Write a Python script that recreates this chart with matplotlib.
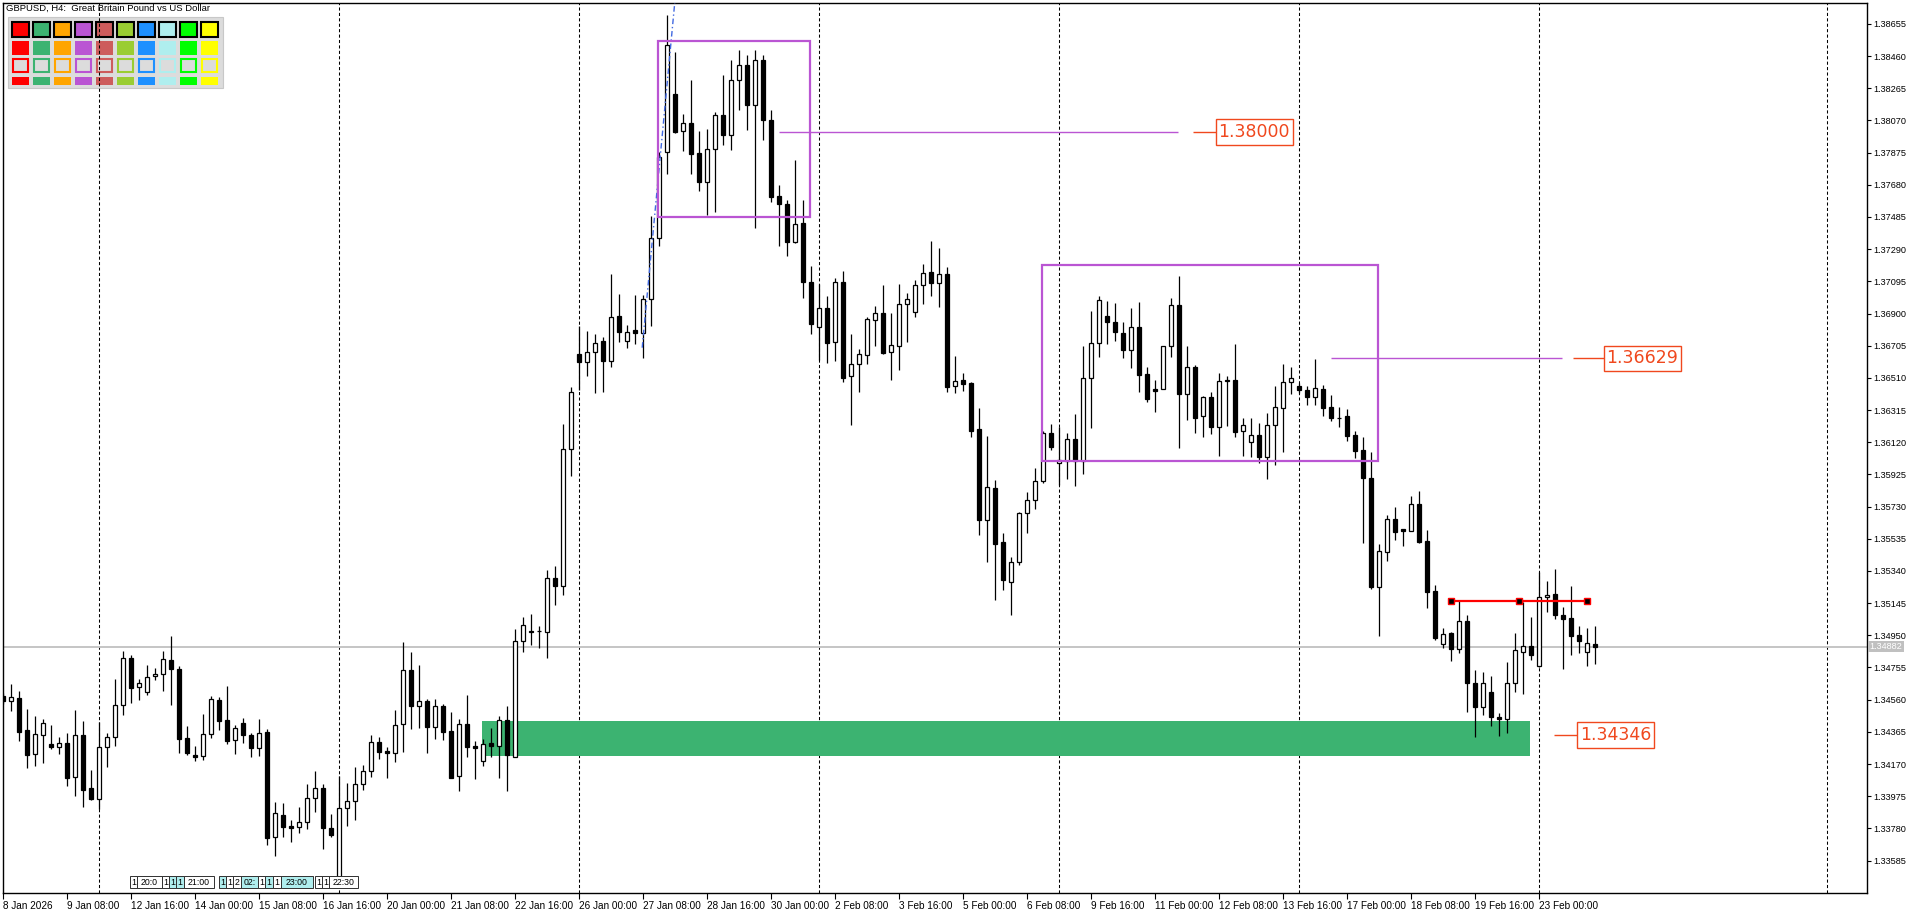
import numpy as np
import matplotlib
matplotlib.use("Agg")
import matplotlib.pyplot as plt
import matplotlib.transforms as mtransforms
from matplotlib.patches import Rectangle

# GBPUSD H4 candles, 8 Jan 2026 00:00 .. 23 Feb 2026 20:00
opens = [1.34582, 1.34550, 1.34570, 1.34374, 1.34229, 1.34344, 1.34291, 1.34271, 1.34297, 1.34090,
         1.34346, 1.34023, 1.33960, 1.34271, 1.34332, 1.34526, 1.34811, 1.34635, 1.34605, 1.34702,
         1.34714, 1.34800, 1.34746, 1.34326, 1.34225, 1.34217, 1.34350, 1.34556, 1.34435, 1.34314,
         1.34417, 1.34348, 1.34265, 1.34362, 1.33726, 1.33859, 1.33793, 1.33787, 1.33817, 1.33962,
         1.34027, 1.33780, 1.33473, 1.33902, 1.33944, 1.34047, 1.34126, 1.34302, 1.34247, 1.34235,
         1.34411, 1.34738, 1.34520, 1.34550, 1.34393, 1.34522, 1.34368, 1.34096, 1.34411, 1.34277,
         1.34187, 1.34297, 1.34277, 1.34435, 1.34214, 1.34914, 1.34976, 1.34974, 1.34968, 1.35295,
         1.35247, 1.36077, 1.36655, 1.36604, 1.36665, 1.36732, 1.36611, 1.36883, 1.36732, 1.36798,
         1.36780, 1.36986, 1.37356, 1.37877, 1.38229, 1.38004, 1.38053, 1.37871, 1.37699, 1.37899,
         1.38103, 1.37982, 1.38315, 1.38406, 1.38164, 1.38436, 1.38073, 1.37614, 1.37564, 1.37335,
         1.37449, 1.37089, 1.36817, 1.36932, 1.36726, 1.37089, 1.36520, 1.36592, 1.36647, 1.36859,
         1.36901, 1.36665, 1.36701, 1.36956, 1.36907, 1.37071, 1.37150, 1.37083, 1.37138, 1.36459,
         1.36497, 1.36479, 1.36200, 1.35647, 1.35841, 1.35514, 1.35271, 1.35392, 1.35689, 1.35770,
         1.35883, 1.36176, 1.35992, 1.36008, 1.36138, 1.36008, 1.36508, 1.36720, 1.36883, 1.36849,
         1.36782, 1.36677, 1.36818, 1.36532, 1.36441, 1.36441, 1.36701, 1.36950, 1.36411, 1.36574,
         1.36277, 1.36394, 1.36211, 1.36493, 1.36495, 1.36186, 1.36120, 1.36162, 1.36029, 1.36223,
         1.36326, 1.36483, 1.36461, 1.36435, 1.36392, 1.36441, 1.36332, 1.36265, 1.36279, 1.36164,
         1.36073, 1.35903, 1.35245, 1.35457, 1.35653, 1.35592, 1.35584, 1.35744, 1.35520, 1.35219,
         1.34896, 1.34962, 1.34865, 1.35037, 1.34659, 1.34517, 1.34605, 1.34453, 1.34441, 1.34663,
         1.34851, 1.34883, 1.34762, 1.35180, 1.35199, 1.35071, 1.35055, 1.34952, 1.34847, 1.34896]
highs = [1.34600, 1.34655, 1.34613, 1.34503, 1.34461, 1.34443, 1.34406, 1.34336, 1.34356, 1.34497,
         1.34431, 1.34132, 1.34423, 1.34360, 1.34685, 1.34855, 1.34831, 1.34685, 1.34768, 1.34754,
         1.34855, 1.34946, 1.34764, 1.34400, 1.34281, 1.34473, 1.34582, 1.34578, 1.34643, 1.34408,
         1.34449, 1.34358, 1.34443, 1.34382, 1.33940, 1.33932, 1.33831, 1.33908, 1.34049, 1.34130,
         1.34047, 1.33867, 1.34097, 1.34055, 1.34152, 1.34164, 1.34346, 1.34334, 1.34271, 1.34497,
         1.34909, 1.34847, 1.34768, 1.34562, 1.34564, 1.34532, 1.34483, 1.34445, 1.34588, 1.34310,
         1.34322, 1.34388, 1.34463, 1.34523, 1.34988, 1.35059, 1.35079, 1.35006, 1.35346, 1.35370,
         1.36231, 1.36455, 1.36823, 1.36794, 1.36774, 1.36758, 1.37140, 1.37018, 1.36830, 1.37012,
         1.37010, 1.37491, 1.37879, 1.38709, 1.38483, 1.38109, 1.38315, 1.38006, 1.38018, 1.38121,
         1.38345, 1.38436, 1.38497, 1.38467, 1.38497, 1.38467, 1.38133, 1.37679, 1.37588, 1.37830,
         1.37588, 1.37188, 1.37077, 1.37006, 1.37115, 1.37158, 1.36776, 1.36685, 1.36881, 1.36946,
         1.37073, 1.36903, 1.37079, 1.37024, 1.37103, 1.37200, 1.37340, 1.37297, 1.37180, 1.36643,
         1.36540, 1.36485, 1.36328, 1.36158, 1.35891, 1.35570, 1.35425, 1.35697, 1.35817, 1.35962,
         1.36188, 1.36231, 1.36212, 1.36176, 1.36291, 1.36701, 1.36915, 1.37006, 1.36976, 1.36964,
         1.36849, 1.36932, 1.36970, 1.36574, 1.36497, 1.36703, 1.36996, 1.37127, 1.36703, 1.36588,
         1.36402, 1.36424, 1.36538, 1.36521, 1.36714, 1.36265, 1.36265, 1.36235, 1.36295, 1.36461,
         1.36594, 1.36576, 1.36477, 1.36461, 1.36624, 1.36467, 1.36406, 1.36332, 1.36320, 1.36190,
         1.36150, 1.36063, 1.35503, 1.35679, 1.35728, 1.35594, 1.35792, 1.35825, 1.35588, 1.35253,
         1.34994, 1.34970, 1.35158, 1.35071, 1.34740, 1.34728, 1.34703, 1.34481, 1.34788, 1.34964,
         1.35150, 1.35061, 1.35334, 1.35279, 1.35352, 1.35122, 1.35249, 1.35006, 1.34996, 1.35006]
lows = [1.34534, 1.34493, 1.34311, 1.34148, 1.34160, 1.34178, 1.34259, 1.34233, 1.34039, 1.33978,
        1.33911, 1.33955, 1.33897, 1.34154, 1.34279, 1.34467, 1.34542, 1.34560, 1.34587, 1.34681,
        1.34613, 1.34530, 1.34239, 1.34227, 1.34187, 1.34194, 1.34330, 1.34376, 1.34291, 1.34233,
        1.34296, 1.34214, 1.34219, 1.33679, 1.33614, 1.33726, 1.33699, 1.33754, 1.33774, 1.33877,
        1.33657, 1.33726, 1.33431, 1.33796, 1.33833, 1.34013, 1.34093, 1.34202, 1.34087, 1.34184,
        1.34245, 1.34384, 1.34390, 1.34239, 1.34323, 1.34316, 1.34083, 1.34005, 1.34214, 1.34081,
        1.34156, 1.34214, 1.34087, 1.34005, 1.34211, 1.34851, 1.34893, 1.34875, 1.34814, 1.35136,
        1.35196, 1.35917, 1.36437, 1.36523, 1.36420, 1.36426, 1.36578, 1.36729, 1.36693, 1.36714,
        1.36632, 1.36826, 1.37311, 1.37744, 1.37992, 1.37887, 1.37747, 1.37644, 1.37499, 1.37517,
        1.37921, 1.37891, 1.38133, 1.38012, 1.37420, 1.37952, 1.37578, 1.37311, 1.37250, 1.37326,
        1.36996, 1.36778, 1.36618, 1.36602, 1.36612, 1.36487, 1.36226, 1.36426, 1.36596, 1.36705,
        1.36657, 1.36499, 1.36560, 1.36729, 1.36881, 1.36960, 1.37008, 1.36941, 1.36426, 1.36420,
        1.36432, 1.36154, 1.35560, 1.35396, 1.35166, 1.35226, 1.35075, 1.35376, 1.35572, 1.35714,
        1.35871, 1.36071, 1.35861, 1.35899, 1.35857, 1.35929, 1.36208, 1.36638, 1.36717, 1.36735,
        1.36632, 1.36572, 1.36426, 1.36366, 1.36305, 1.36440, 1.36638, 1.36087, 1.36257, 1.36174,
        1.36150, 1.36168, 1.36038, 1.36220, 1.36154, 1.36038, 1.36032, 1.35992, 1.35899, 1.35984,
        1.36063, 1.36411, 1.36417, 1.36346, 1.36346, 1.36281, 1.36249, 1.36214, 1.36129, 1.36026,
        1.35511, 1.35231, 1.34948, 1.35402, 1.35528, 1.35493, 1.35580, 1.35511, 1.35116, 1.34922,
        1.34875, 1.34796, 1.34841, 1.34484, 1.34332, 1.34465, 1.34402, 1.34338, 1.34356, 1.34606,
        1.34596, 1.34802, 1.34755, 1.35093, 1.35047, 1.34748, 1.34833, 1.34845, 1.34766, 1.34778]
closes = [1.34552, 1.34574, 1.34366, 1.34227, 1.34350, 1.34417, 1.34271, 1.34297, 1.34087, 1.34344,
          1.34014, 1.33960, 1.34271, 1.34332, 1.34526, 1.34811, 1.34633, 1.34659, 1.34696, 1.34714,
          1.34805, 1.34748, 1.34323, 1.34239, 1.34214, 1.34350, 1.34562, 1.34433, 1.34311, 1.34387,
          1.34344, 1.34265, 1.34356, 1.33720, 1.33871, 1.33787, 1.33784, 1.33817, 1.33962, 1.34027,
          1.33780, 1.33740, 1.33902, 1.33944, 1.34047, 1.34126, 1.34302, 1.34245, 1.34235, 1.34405,
          1.34738, 1.34520, 1.34550, 1.34396, 1.34520, 1.34366, 1.34087, 1.34411, 1.34271, 1.34269,
          1.34290, 1.34277, 1.34435, 1.34223, 1.34914, 1.35011, 1.34968, 1.34976, 1.35295, 1.35247,
          1.36077, 1.36423, 1.36608, 1.36665, 1.36720, 1.36611, 1.36877, 1.36786, 1.36790, 1.36780,
          1.36986, 1.37356, 1.37849, 1.38525, 1.38002, 1.38053, 1.37865, 1.37699, 1.37899, 1.38101,
          1.37982, 1.38315, 1.38406, 1.38164, 1.38436, 1.38073, 1.37608, 1.37562, 1.37335, 1.37443,
          1.37093, 1.36838, 1.36932, 1.36723, 1.37089, 1.36511, 1.36592, 1.36653, 1.36865, 1.36901,
          1.36663, 1.36708, 1.36956, 1.36986, 1.37071, 1.37144, 1.37083, 1.37138, 1.36457, 1.36489,
          1.36475, 1.36190, 1.35651, 1.35847, 1.35505, 1.35283, 1.35392, 1.35689, 1.35770, 1.35883,
          1.36174, 1.36089, 1.36012, 1.36138, 1.36008, 1.36508, 1.36720, 1.36980, 1.36847, 1.36786,
          1.36677, 1.36817, 1.36529, 1.36384, 1.36432, 1.36701, 1.36950, 1.36411, 1.36574, 1.36265,
          1.36394, 1.36211, 1.36489, 1.36497, 1.36184, 1.36223, 1.36162, 1.36029, 1.36223, 1.36332,
          1.36483, 1.36508, 1.36435, 1.36392, 1.36447, 1.36329, 1.36265, 1.36267, 1.36160, 1.36069,
          1.35905, 1.35243, 1.35459, 1.35653, 1.35578, 1.35584, 1.35744, 1.35515, 1.35214, 1.34936,
          1.34956, 1.34865, 1.35037, 1.34659, 1.34517, 1.34659, 1.34457, 1.34441, 1.34659, 1.34861,
          1.34883, 1.34831, 1.35180, 1.35192, 1.35075, 1.35051, 1.34948, 1.34917, 1.34902, 1.34882]

date_labels = ["8 Jan 2026", "9 Jan 08:00", "12 Jan 16:00", "14 Jan 00:00", "15 Jan 08:00",
               "16 Jan 16:00", "20 Jan 00:00", "21 Jan 08:00", "22 Jan 16:00", "26 Jan 00:00",
               "27 Jan 08:00", "28 Jan 16:00", "30 Jan 00:00", "2 Feb 08:00", "3 Feb 16:00",
               "5 Feb 00:00", "6 Feb 08:00", "9 Feb 16:00", "11 Feb 00:00", "12 Feb 08:00",
               "13 Feb 16:00", "17 Feb 00:00", "18 Feb 08:00", "19 Feb 16:00", "23 Feb 00:00"]
separator_bars = [12, 42, 72, 102, 132, 162, 192, 228]
price_ticks = [1.33585 + 0.00195 * k for k in range(27)]
last_price = 1.34882

# drawn objects
boxes = [(81.9, 100.9, 1.37487, 1.38552), (129.9, 171.9, 1.36008, 1.37194)]
level_lines = [(97.0, 146.9, 1.38000), (166.0, 194.9, 1.36629)]
labels = [("1.38000", 148.75, 151.6, 1.38000), ("1.36629", 196.25, 200.1, 1.36629),
          ("1.34346", 193.9, 196.75, 1.34346)]
zone = (59.9, 190.9, 1.34220, 1.34431)
red_line = ([181.0, 189.5, 198.0], 1.35158)
blue_line = ([79.9, 84.0], [1.36693, 1.38800])

palette = ["#FF0000", "#3CB371", "#FFA500", "#BA55D3", "#CD5C5C",
           "#9ACD32", "#1E90FF", "#AFEEEE", "#00FF00", "#FFFF00"]

# calendar event flags along the bottom: text, left px, right px, highlighted
events = [("1", 130, 137, False), ("20:0", 137, 162, False), ("1", 162, 169, False),
          ("1", 169, 176, True), ("1", 176, 184, True), ("21:00", 184, 214, False),
          ("1", 219, 226, True), ("1", 226, 233, False), ("2", 233, 241, False),
          ("02:", 241, 258, True), ("1", 258, 265, False), ("1", 265, 273, True),
          ("1", 273, 281, False), ("23:00", 281, 313, True), ("1", 315, 322, False),
          ("1", 322, 329, False), ("22:30", 329, 358, False)]

W, H = 1920, 915
fig = plt.figure(figsize=(W / 100, H / 100), dpi=100)
ax = fig.add_axes([3 / W, 22 / H, 1864 / W, 890 / H])
px = mtransforms.Affine2D().scale(1 / W, -1 / H).translate(0, 1) + fig.transFigure

o = np.array(opens); h = np.array(highs); l = np.array(lows); c = np.array(closes)
x = np.arange(len(o))
up = c >= o

# period separators
for b in separator_bars:
    ax.axvline(b, color="black", lw=0.75, ls=(0, (3.0, 2.2)), zorder=1)

# green zone
ax.add_patch(Rectangle((zone[0], zone[2]), zone[1] - zone[0], zone[3] - zone[2],
                       facecolor="#3CB371", edgecolor="none", zorder=1.5))

ax.axhline(last_price, color="#C0C0C0", lw=1.3, zorder=2)

# candles
ax.vlines(x, l, h, color="black", lw=0.9, zorder=3)
lo = np.minimum(o, c)
hgt = np.maximum(np.abs(c - o), 0.00002)
ax.bar(x[up], hgt[up], bottom=lo[up], width=0.6, color="white", edgecolor="black", lw=0.9, zorder=4)
ax.bar(x[~up], hgt[~up], bottom=lo[~up], width=0.6, color="black", edgecolor="black", lw=0.9, zorder=4)

purple = "#BA55D3"
orange = "#F0481E"
for x0, x1, y0, y1 in boxes:
    ax.add_patch(Rectangle((x0, y0), x1 - x0, y1 - y0, fill=False, edgecolor=purple, lw=1.6, zorder=6))
for x0, x1, y in level_lines:
    ax.hlines(y, x0, x1, color=purple, lw=1.0, zorder=6)
for txt, x0, x1, y in labels:
    ax.hlines(y, x0, x1, color=orange, lw=1.0, zorder=6)
    ax.add_patch(Rectangle((x1, y - 0.00076), 9.6, 0.00152, facecolor="white",
                           edgecolor=orange, lw=1.0, zorder=6))
    ax.text(x1 + 4.8, y, txt, color=orange, fontsize=12.5, ha="center", va="center",
            family="DejaVu Sans", zorder=7)

ax.plot(red_line[0], [red_line[1]] * 3, color="#FF0000", lw=1.6, marker="s", ms=5,
        mfc="black", mec="#FF0000", mew=1.0, zorder=7)
ax.plot(blue_line[0], blue_line[1], color="#4169E1", lw=1.0, ls=(0, (4, 2, 1, 2)), zorder=5)

ax.set_xlim(0, 233)
ax.set_ylim(1.333884, 1.387818)
for s in ax.spines.values():
    s.set_linewidth(1.0)

ax.yaxis.tick_right()
ax.set_yticks(price_ticks)
ax.set_yticklabels([f"{p:.5f}" for p in price_ticks], family="Liberation Sans")
ax.set_xticks(range(0, 8 * len(date_labels), 8))
ax.set_xticklabels(date_labels, ha="left", family="Liberation Sans")
ax.tick_params(axis="y", length=3, width=0.8, pad=1.5, labelsize=6.6)
ax.tick_params(axis="x", length=4, width=0.8, pad=1.5, labelsize=7.2)

ax.text(1.0015, last_price, f"{last_price:.5f}", transform=ax.get_yaxis_transform(),
        color="white", fontsize=6.6, family="Liberation Sans", va="center", ha="left",
        clip_on=False, bbox=dict(boxstyle="square,pad=0.15", facecolor="#C0C0C0", edgecolor="none"))

# header and colour palette
fig.text(6 / W, 1 - 8 / H, "GBPUSD, H4:  Great Britain Pound vs US Dollar", fontsize=6.8,
         family="Liberation Sans", va="center", ha="left")
ax.add_patch(Rectangle((8, 17), 215, 71, transform=px, facecolor="#DCDCDC", edgecolor="#C8C8C8",
                       lw=0.8, zorder=0.8))
for k, col in enumerate(palette):
    cx = 11.7 + 21 * k
    ax.add_patch(Rectangle((cx, 21.7), 17.3, 15, transform=px, facecolor=col, edgecolor="black",
                           lw=1.5, zorder=0.9))
    ax.add_patch(Rectangle((cx, 40.7), 17.3, 14.3, transform=px, facecolor=col, edgecolor="none",
                           zorder=0.9))
    ax.add_patch(Rectangle((cx + 0.8, 59), 15.7, 13, transform=px, facecolor="#DCDCDC",
                           edgecolor=col, lw=1.5, zorder=0.9))
    ax.add_patch(Rectangle((cx, 76.7), 17.3, 8.3, transform=px, facecolor=col, edgecolor="none",
                           zorder=0.9))

for txt, x0, x1, cyan in events:
    ax.add_patch(Rectangle((x0, 876), x1 - x0, 12, transform=px, zorder=8, lw=0.7,
                           facecolor="#AFEEEE" if cyan else "white", edgecolor="#303030"))
    ax.text((x0 + x1) / 2, 882.5, txt, transform=px, fontsize=6.3, family="Liberation Sans",
            va="center", ha="center", zorder=9)

fig.savefig("out.png", dpi=100)
